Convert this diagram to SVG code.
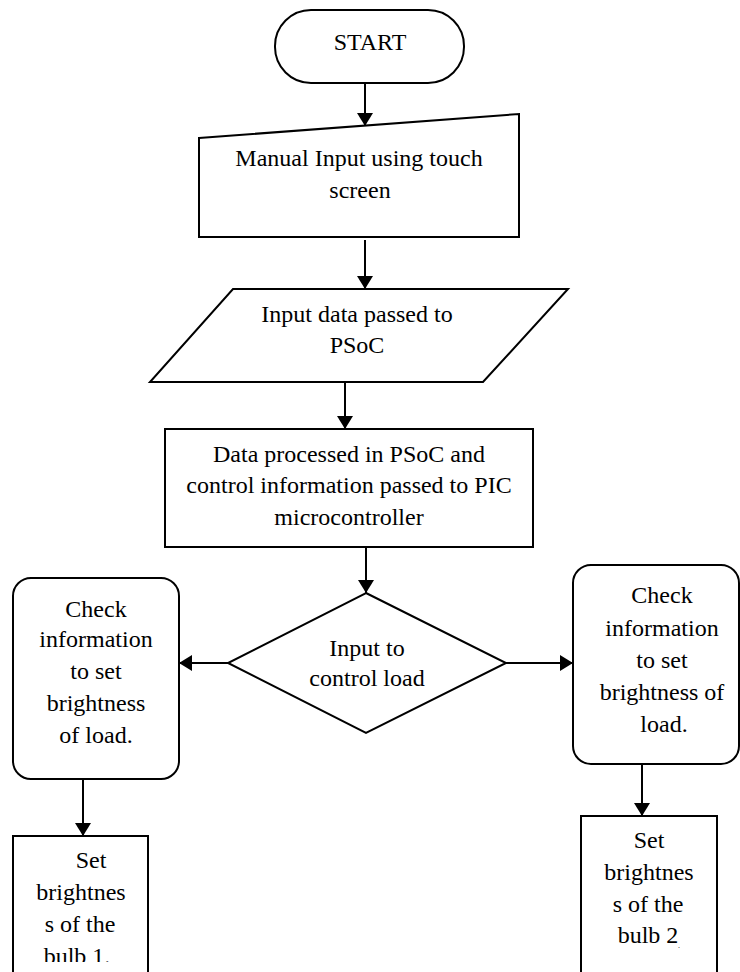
<svg xmlns="http://www.w3.org/2000/svg" width="740" height="972" viewBox="0 0 740 972">
<style>
.s{fill:#fff;stroke:#000;stroke-width:2}
.t{font-family:"Liberation Serif","Times New Roman",serif;font-size:24px;fill:#000;text-anchor:middle}
.c{stroke:#000;stroke-width:2;fill:none}
</style>
<defs>
<marker id="ah" markerUnits="userSpaceOnUse" markerWidth="14" markerHeight="16" refX="13" refY="8" orient="auto">
<path d="M0,0 L13,8 L0,16 z" fill="#000"/>
</marker>
<clipPath id="clipL"><rect x="0" y="0" width="200" height="962"/></clipPath>
</defs>
<rect width="740" height="972" fill="#fff"/>
<g id="connectors">
<line class="c" x1="365" y1="83" x2="365" y2="126" marker-end="url(#ah)"/>
<line class="c" x1="365" y1="240" x2="365" y2="289" marker-end="url(#ah)"/>
<line class="c" x1="345" y1="382" x2="345" y2="429" marker-end="url(#ah)"/>
<line class="c" x1="366" y1="547" x2="366" y2="593" marker-end="url(#ah)"/>
<line class="c" x1="228" y1="663" x2="179" y2="663" marker-end="url(#ah)"/>
<line class="c" x1="506" y1="663" x2="573" y2="663" marker-end="url(#ah)"/>
<line class="c" x1="83" y1="780" x2="83" y2="836" marker-end="url(#ah)"/>
<line class="c" x1="642" y1="765" x2="642" y2="816" marker-end="url(#ah)"/>
</g>
<g id="start">
<rect class="s" x="275" y="10" width="189" height="73" rx="36" ry="36"/>
<text class="t" x="370" y="50">START</text>
</g>
<g id="manual-input">
<polygon class="s" points="199,138 519,114 519,237 199,237"/>
<text class="t" x="359" y="166">Manual Input using touch</text>
<text class="t" x="360" y="198">screen</text>
</g>
<g id="input-data">
<polygon class="s" points="233,289 568,289 483,382 150,382"/>
<text class="t" x="357" y="322">Input data passed to</text>
<text class="t" x="357" y="353">PSoC</text>
</g>
<g id="process">
<rect class="s" x="165" y="429" width="368" height="118"/>
<text class="t" x="349" y="462">Data processed in PSoC and</text>
<text class="t" x="349" y="493">control information passed to PIC</text>
<text class="t" x="349" y="525">microcontroller</text>
</g>
<g id="decision">
<polygon class="s" points="366,593 506,663 366,733 228,663"/>
<text class="t" x="367" y="656">Input to</text>
<text class="t" x="367" y="686">control load</text>
</g>
<g id="check-left">
<rect class="s" x="13" y="578" width="166" height="201" rx="18" ry="18"/>
<text class="t" x="96" y="617">Check</text>
<text class="t" x="96" y="647">information</text>
<text class="t" x="96" y="679">to set</text>
<text class="t" x="96" y="711">brightness</text>
<text class="t" x="96" y="743">of load.</text>
</g>
<g id="check-right">
<rect class="s" x="573" y="565" width="166" height="199" rx="18" ry="18"/>
<text class="t" x="662" y="603">Check</text>
<text class="t" x="662" y="636">information</text>
<text class="t" x="662" y="668">to set</text>
<text class="t" x="662" y="700">brightness of</text>
<text class="t" x="664" y="732">load.</text>
</g>
<g id="set-left">
<rect class="s" x="13" y="836" width="135" height="200"/>
<g clip-path="url(#clipL)">
<text class="t" x="91" y="868">Set</text>
<text class="t" x="81" y="900">brightnes</text>
<text class="t" x="80" y="932">s of the</text>
<text class="t" x="77" y="964">bulb 1.</text>
</g>
</g>
<g id="set-right">
<rect class="s" x="581" y="816" width="136" height="200"/>
<text class="t" x="649" y="848">Set</text>
<text class="t" x="649" y="880">brightnes</text>
<text class="t" x="648" y="912">s of the</text>
<text class="t" x="648" y="943">bulb 2</text>
<text class="t" x="679" y="948" style="font-size:8px">.</text>
</g>
</svg>
